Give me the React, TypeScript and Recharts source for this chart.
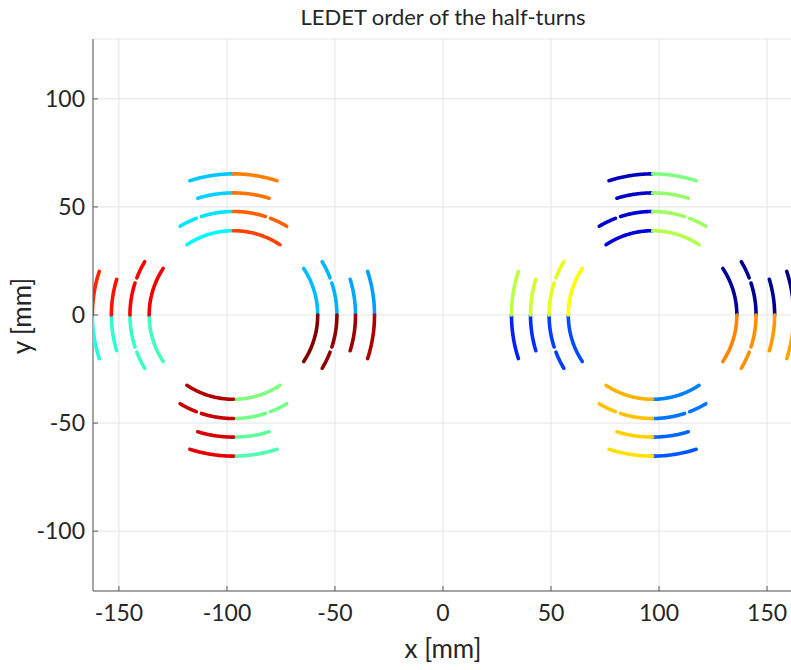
import React from 'react';
import {
  ScatterChart, Scatter, XAxis, YAxis, CartesianGrid,
} from 'recharts';

// geometry of the two apertures (mm / degrees)
const apertureCenters = [-97, 97];
const layerRadii = [39.0, 47.9, 56.5, 65.3];
// angular pieces of each layer, measured from the pole axis
const layerPieces = [
  [[0, 33.8]],
  [[0, 18.0], [21.0, 31.0]],
  [[0, 17.2]],
  [[0, 18.0]],
];
const poleAxes = [90, 180, 270, 0]; // top, left, bottom, right
const halfSides = [1, -1]; // counter-clockwise / clockwise from the axis

// LEDET order (0..1 on the jet map) per pole, half, layer (r39, r48, r56, r65)
const leftApertureOrder = [
  [[0.37, 0.35, 0.33, 0.32], [0.81, 0.78, 0.76, 0.75]],
  [[0.44, 0.43, 0.42, 0.41], [0.89, 0.875, 0.86, 0.84]],
  [[0.50, 0.49, 0.47, 0.45], [0.95, 0.93, 0.915, 0.90]],
  [[0.31, 0.30, 0.29, 0.28], [1.0, 0.985, 0.97, 0.955]],
];
const rightApertureOrder = [
  [[0.09, 0.08, 0.07, 0.06], [0.55, 0.53, 0.52, 0.50]],
  [[0.20, 0.185, 0.17, 0.155], [0.625, 0.60, 0.58, 0.56]],
  [[0.25, 0.24, 0.225, 0.21], [0.70, 0.685, 0.67, 0.655]],
  [[0.03, 0.02, 0.01, 0.0], [0.745, 0.735, 0.725, 0.715]],
];
const apertureOrders = [leftApertureOrder, rightApertureOrder];

const xTicks = [-150, -100, -50, 0, 50, 100, 150];
const yTicks = [-100, -50, 0, 50, 100];

const jet = (v: number) => {
  const c = (t: number) => Math.round(255 * Math.max(0, Math.min(1, t)));
  const r = c(Math.min(4 * v - 1.5, -4 * v + 4.5));
  const g = c(Math.min(4 * v - 0.5, -4 * v + 3.5));
  const b = c(Math.min(4 * v + 0.5, -4 * v + 2.5));
  return `rgb(${r},${g},${b})`;
};

type Seg = { key: string; color: string; points: { x: number; y: number }[] };

const segments: Seg[] = [];
apertureCenters.forEach((cx, a) => {
  poleAxes.forEach((phi0, p) => {
    halfSides.forEach((s, h) => {
      layerRadii.forEach((r, l) => {
        layerPieces[l].forEach(([t1, t2], k) => {
          const points = [];
          for (let t = t1; t <= t2 + 1e-6; t += 0.5) {
            const phi = ((phi0 + s * t) * Math.PI) / 180;
            points.push({ x: cx + r * Math.cos(phi), y: r * Math.sin(phi) });
          }
          segments.push({
            key: `${a}-${p}-${h}-${l}-${k}`,
            color: jet(apertureOrders[a][p][h][l]),
            points,
          });
        });
      });
    });
  });
});

const font = 'Lato, "Open Sans", sans-serif';
const textColor = '#262626';
const axisColor = '#5a5a5a';

const NoDot = () => <g />;

const App: React.FC = () => {
  return (
    <div
      style={{
        position: 'absolute', left: 0, top: 0, width: 791, height: 670,
        overflow: 'hidden', background: '#fff', fontFamily: font,
      }}
    >
      <div
        style={{
          position: 'absolute', left: 243, width: 400, top: 3, textAlign: 'center',
          fontSize: 22, color: textColor, lineHeight: '28px',
        }}
      >
        LEDET order of the half-turns
      </div>
      <div
        style={{
          position: 'absolute', left: 343, width: 200, top: 632, textAlign: 'center',
          fontSize: 26, color: textColor, lineHeight: '32px',
        }}
      >
        x [mm]
      </div>
      <div
        style={{
          position: 'absolute', left: 21, top: 316, width: 0, height: 0,
        }}
      >
        <div
          style={{
            position: 'absolute', left: -100, top: -16, width: 200, textAlign: 'center',
            fontSize: 26, color: textColor, lineHeight: '32px', transform: 'rotate(-90deg)',
          }}
        >
          y [mm]
        </div>
      </div>
      <ScatterChart
        width={800}
        height={670}
        margin={{ top: 39, right: 7, bottom: 49, left: 33 }}
        style={{ position: 'absolute', left: 0, top: 0 }}
      >
        <CartesianGrid stroke="#e4e4e4" strokeWidth={1} />
        <XAxis
          type="number"
          dataKey="x"
          domain={[-162, 162]}
          allowDataOverflow
          ticks={xTicks}
          tickSize={-5}
          tickMargin={19}
          height={30}
          axisLine={{ stroke: axisColor }}
          tickLine={{ stroke: axisColor }}
          tick={{ fill: textColor, fontSize: 23, fontFamily: font }}
        />
        <XAxis
          xAxisId="top"
          orientation="top"
          type="number"
          domain={[-162, 162]}
          allowDataOverflow
          ticks={xTicks}
          tickSize={-5}
          height={0}
          tick={false}
          axisLine={{ stroke: axisColor }}
          tickLine={{ stroke: axisColor }}
        />
        <YAxis
          type="number"
          dataKey="y"
          domain={[-127.7, 127.7]}
          allowDataOverflow
          ticks={yTicks}
          tickSize={-5}
          tickMargin={13}
          width={60}
          axisLine={{ stroke: axisColor }}
          tickLine={{ stroke: axisColor }}
          tick={{ fill: textColor, fontSize: 23, fontFamily: font }}
        />
        <YAxis
          yAxisId="right"
          orientation="right"
          type="number"
          domain={[-127.7, 127.7]}
          allowDataOverflow
          ticks={yTicks}
          tickSize={-5}
          width={0}
          tick={false}
          axisLine={{ stroke: axisColor }}
          tickLine={{ stroke: axisColor }}
        />
        {segments.map((seg) => (
          <Scatter
            key={seg.key}
            data={seg.points}
            line={{ stroke: seg.color, strokeWidth: 3.6, strokeLinecap: 'round' }}
            shape={NoDot}
            legendType="none"
            isAnimationActive={false}
          />
        ))}
      </ScatterChart>
    </div>
  );
};

export default App;
